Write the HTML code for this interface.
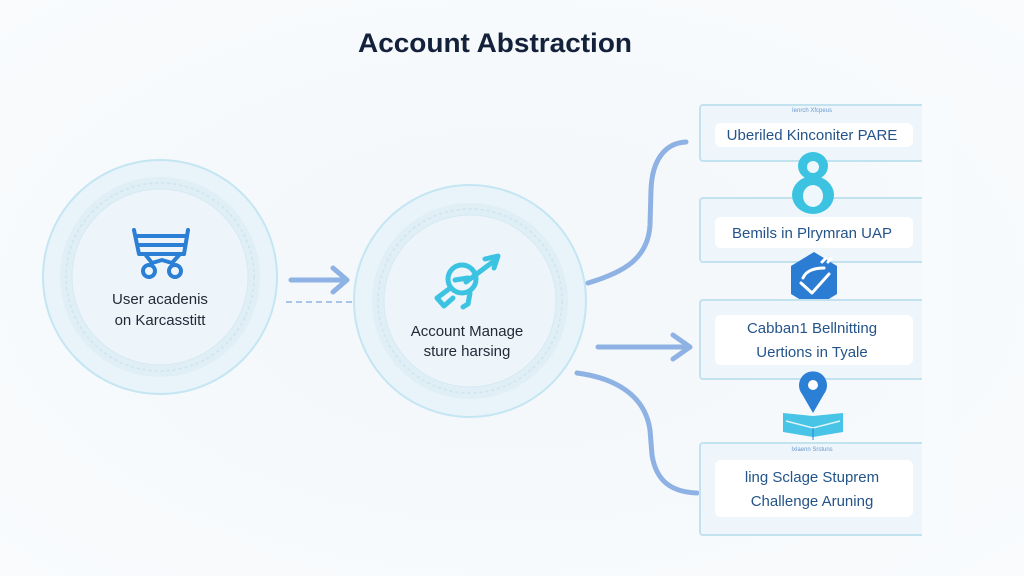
<!DOCTYPE html>
<html><head><meta charset="utf-8"><style>
html,body{margin:0;padding:0;}
body{width:1024px;height:576px;overflow:hidden;background:#f6f9fc;font-family:"Liberation Sans",sans-serif;}
svg{position:absolute;left:0;top:0;}
</style></head><body>
<svg width="1024" height="576" viewBox="0 0 1024 576" xmlns="http://www.w3.org/2000/svg">
<defs>
<radialGradient id="bg" cx="50%" cy="50%" r="70%">
<stop offset="0" stop-color="#f3f7fa"/><stop offset="1" stop-color="#f9fbfd"/>
</radialGradient>
<radialGradient id="cf" cx="50%" cy="50%" r="50%">
<stop offset="0" stop-color="#eef6fb"/><stop offset="1" stop-color="#e8f3fa"/>
</radialGradient>
</defs>
<rect width="1024" height="576" fill="url(#bg)"/>

<!-- Title -->
<text x="358" y="52" textLength="274" lengthAdjust="spacingAndGlyphs" font-family="Liberation Sans, sans-serif" font-size="27" font-weight="bold" fill="#14213a">Account Abstraction</text>

<!-- Left circle -->
<circle cx="160" cy="277" r="117" fill="url(#cf)" stroke="#c4e6f3" stroke-width="2"/>
<circle cx="160" cy="277" r="94" fill="none" stroke="#e0eef6" stroke-width="12"/>
<circle cx="160" cy="277" r="94" fill="none" stroke="#cfe4ef" stroke-width="1.5" stroke-dasharray="3 3"/>
<circle cx="160" cy="277" r="88" fill="#edf5fb" stroke="#d6e9f3" stroke-width="1"/>
<!-- cart icon -->
<g fill="none" stroke="#2b7fd4" stroke-width="4" stroke-linecap="round" stroke-linejoin="round">
<path d="M134,230 L139,254 L184,254 L188,230"/>
<line x1="137" y1="236" x2="187" y2="236"/>
<line x1="138" y1="245" x2="185" y2="245"/>
<path d="M145,254 L152,263 L162,260 L172,263 L180,254"/>
<circle cx="149" cy="271" r="6"/>
<circle cx="175" cy="271" r="6"/>
</g>
<text x="160" y="304" text-anchor="middle" font-size="15" fill="#222a36">User acadenis</text>
<text x="160" y="325" text-anchor="middle" font-size="15" fill="#222a36">on Karcasstitt</text>

<!-- Left arrow -->
<g stroke="#8fb2e4" stroke-width="5" stroke-linecap="round" fill="none" stroke-linejoin="round">
<line x1="291" y1="280" x2="345" y2="280"/>
<path d="M333,268 L347,280 L333,292"/>
</g>
<line x1="286" y1="302" x2="352" y2="302" stroke="#8fb2e4" stroke-width="1.5" stroke-dasharray="6 4"/>

<!-- Middle circle -->
<circle cx="470" cy="301" r="116" fill="url(#cf)" stroke="#c4e6f3" stroke-width="2"/>
<circle cx="470" cy="301" r="92" fill="none" stroke="#e0eef6" stroke-width="12"/>
<circle cx="470" cy="301" r="92" fill="none" stroke="#cfe4ef" stroke-width="1.5" stroke-dasharray="3 3"/>
<circle cx="470" cy="301" r="86" fill="#edf5fb" stroke="#d6e9f3" stroke-width="1"/>
<!-- rocket icon -->
<g fill="none" stroke="#3cc3e2" stroke-width="5" stroke-linecap="round" stroke-linejoin="round">
<circle cx="462" cy="279" r="14"/>
<line x1="455" y1="280" x2="468" y2="278"/>
<path d="M466,282 L494,261"/>
<path d="M485,259 L498,256 L494,268"/>
<path d="M449,289 L437,298 L444,306 L453,298"/>
<path d="M470,293 L468,304 L463,307"/>
</g>
<text x="467" y="336" text-anchor="middle" font-size="15" fill="#222a36">Account Manage</text>
<text x="467" y="356" text-anchor="middle" font-size="15" fill="#222a36">sture harsing</text>

<!-- connectors right -->
<g stroke="#8fb2e4" stroke-width="5" stroke-linecap="round" fill="none" stroke-linejoin="round">
<path d="M588,283 C625,272 648,258 650,225 L651,190 C652,160 665,143 686,142"/>
<line x1="598" y1="347" x2="688" y2="347"/>
<path d="M673,335 L690,347 L673,359"/>
<path d="M577,373 C615,378 645,395 650,430 L652,455 C656,480 670,492 697,493"/>
</g>

<!-- Box 1 -->
<rect x="700" y="105" width="240" height="56" rx="3" fill="#eff6fb" stroke="#c2e2f0" stroke-width="2"/>
<rect x="715" y="123" width="198" height="24" rx="6" fill="#ffffff"/>
<text x="812" y="112" text-anchor="middle" font-size="6" fill="#6a98d0">Ienrch Xfcpeus</text>
<text x="812" y="140" text-anchor="middle" font-size="15" fill="#245489">Uberiled Kinconiter PARE</text>

<!-- Box 2 -->
<rect x="700" y="198" width="240" height="64" rx="3" fill="#eff6fb" stroke="#c2e2f0" stroke-width="2"/>
<rect x="715" y="217" width="198" height="31" rx="6" fill="#ffffff"/>
<text x="812" y="238" text-anchor="middle" font-size="15" fill="#245489">Bemils in Plrymran UAP</text>

<!-- 8 icon -->
<g>
<ellipse cx="813" cy="195" rx="21" ry="19" fill="#3cc3e2"/>
<ellipse cx="813" cy="166" rx="15" ry="14" fill="#3cc3e2"/>
<ellipse cx="813" cy="196" rx="10" ry="11" fill="#eef7fb"/>
<ellipse cx="813" cy="167" rx="6" ry="6" fill="#eef7fb"/>
</g>

<!-- hexagon -->
<polygon points="814,252 837,266 837,294 814,308 791,294 791,266" fill="#2b7cd3"/>
<g fill="none" stroke="#ffffff" stroke-width="3" stroke-linecap="round" stroke-linejoin="round">
<path d="M801,283 L812,293 L829,274"/>
<path d="M803,278 C806,270 816,268 824,268"/>
<path d="M822,262 L826,258 M828,262 L831,258"/>
</g>

<!-- Box 3 -->
<rect x="700" y="300" width="240" height="79" rx="3" fill="#eff6fb" stroke="#c2e2f0" stroke-width="2"/>
<rect x="715" y="315" width="198" height="50" rx="6" fill="#ffffff"/>
<text x="812" y="333" text-anchor="middle" font-size="15" fill="#245489">Cabban1 Bellnitting</text>
<text x="812" y="357" text-anchor="middle" font-size="15" fill="#245489">Uertions in Tyale</text>

<!-- pin -->
<path d="M813,413 L802,394 A14,14 0 1 1 824,394 Z" fill="#2b80d6"/>
<circle cx="813" cy="385" r="5" fill="#ffffff"/>
<!-- book -->
<path d="M783,413 L813,416 L843,413 L843,432 L813,437 L783,432 Z" fill="#48c4e6"/>
<path d="M786,421 L813,428 L840,421" fill="none" stroke="#dff4fb" stroke-width="1.5"/>
<line x1="813" y1="428" x2="813" y2="440" stroke="#2b80d6" stroke-width="1"/>

<!-- Box 4 -->
<rect x="700" y="443" width="240" height="92" rx="3" fill="#eff6fb" stroke="#c2e2f0" stroke-width="2"/>
<rect x="715" y="460" width="198" height="57" rx="6" fill="#ffffff"/>
<text x="812" y="451" text-anchor="middle" font-size="6" fill="#6a98d0">Ixlaenn Srstuns</text>
<text x="812" y="482" text-anchor="middle" font-size="15" fill="#245489">ling Sclage Stuprem</text>
<text x="812" y="506" text-anchor="middle" font-size="15" fill="#245489">Challenge Aruning</text>

<!-- fade right edge of boxes -->
<rect x="922" y="95" width="30" height="450" fill="#f8fbfd"/>
</svg>
</body></html>
